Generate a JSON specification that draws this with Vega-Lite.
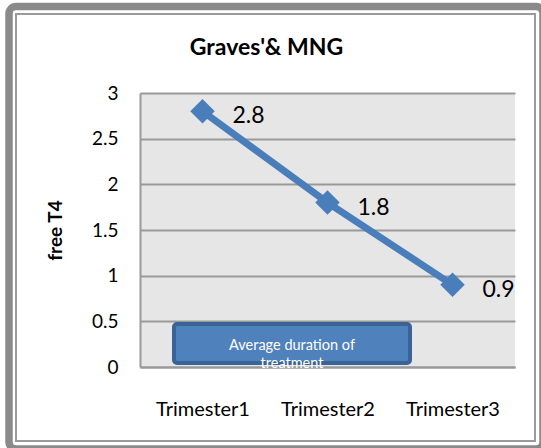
{
  "$schema": "https://vega.github.io/schema/vega-lite/v6.json",
  "width": 375,
  "height": 274,
  "autosize": {"type": "none"},
  "padding": {"left": 140, "top": 93, "right": 26, "bottom": 81},
  "background": "white",
  "config": {
    "view": {"fill": "#e6e6e6", "stroke": null},
    "font": "Lato"
  },
  "title": {
    "text": "Graves'& MNG",
    "font": "Lato",
    "fontSize": 23,
    "fontWeight": "bold",
    "color": "black",
    "anchor": "middle",
    "frame": "group",
    "baseline": "alphabetic",
    "dx": -61,
    "offset": -75
  },
  "datasets": {
    "main": [
      {"trimester": "Trimester1", "freeT4": 2.8},
      {"trimester": "Trimester2", "freeT4": 1.8},
      {"trimester": "Trimester3", "freeT4": 0.9}
    ],
    "one": [{"note": "Average duration of treatment"}]
  },
  "resolve": {"scale": {"x": "independent", "y": "independent"}},
  "layer": [
    {
      "data": {"name": "one"},
      "mark": {"type": "rect", "fill": "transparent", "stroke": "#8a8a8a", "strokeWidth": 7.5, "cornerRadius": 7},
      "encoding": {
        "x": {"datum": -1.048, "type": "quantitative", "scale": {"domain": [0, 3], "nice": false, "zero": false}, "axis": null},
        "x2": {"datum": 3.224},
        "y": {"datum": 3.947, "type": "quantitative", "scale": {"domain": [0, 3], "nice": false, "zero": false}, "axis": null},
        "y2": {"datum": -0.898}
      }
    },
    {
      "data": {"name": "one"},
      "mark": {"type": "rect", "fill": "transparent", "stroke": "#9a9a9a", "strokeWidth": 2},
      "encoding": {
        "x": {"datum": -0.992, "type": "quantitative", "scale": {"domain": [0, 3], "nice": false, "zero": false}, "axis": null},
        "x2": {"datum": 3.16},
        "y": {"datum": 3.865, "type": "quantitative", "scale": {"domain": [0, 3], "nice": false, "zero": false}, "axis": null},
        "y2": {"datum": -0.81}
      }
    },
    {
      "data": {"name": "main"},
      "encoding": {
        "x": {
          "field": "trimester",
          "type": "ordinal",
          "scale": {"type": "point", "padding": 0.5},
          "axis": {
            "title": null,
            "labelAngle": 0,
            "labelFontSize": 20,
            "labelColor": "black",
            "labelPadding": 32,
            "ticks": false,
            "tickSize": 0,
            "domainColor": "#999999",
            "domainWidth": 2,
            "grid": false
          }
        },
        "y": {
          "field": "freeT4",
          "type": "quantitative",
          "scale": {"domain": [0, 3], "nice": false},
          "axis": {
            "title": "free T4",
            "titleFontSize": 19,
            "titleFontWeight": "bold",
            "titleColor": "black",
            "titlePadding": 26,
            "values": [0, 0.5, 1, 1.5, 2, 2.5, 3],
            "format": "~g",
            "labelFontSize": 19,
            "labelColor": "black",
            "labelPadding": 22,
            "ticks": false,
            "tickSize": 0,
            "domainColor": "#999999",
            "domainWidth": 2,
            "grid": true,
            "gridColor": "#999999",
            "gridWidth": 2
          }
        }
      },
      "layer": [
        {
          "mark": {
            "type": "line",
            "color": "#4a7ebb",
            "strokeWidth": 7,
            "point": {"shape": "diamond", "size": 600, "filled": true, "color": "#4a7ebb", "opacity": 1}
          }
        },
        {
          "mark": {"type": "text", "align": "left", "baseline": "middle", "dx": 30, "dy": 5, "fontSize": 23, "color": "black"},
          "encoding": {"text": {"field": "freeT4", "type": "quantitative", "format": ".1f"}}
        }
      ]
    },
    {
      "data": {"name": "one"},
      "mark": {"type": "rect", "fill": "#4f81bd", "stroke": "#3b6496", "strokeWidth": 4, "cornerRadius": 3},
      "encoding": {
        "x": {"datum": 0.272, "type": "quantitative", "scale": {"domain": [0, 3], "nice": false, "zero": false}, "axis": null},
        "x2": {"datum": 2.16},
        "y": {"datum": 0.471, "type": "quantitative", "scale": {"domain": [0, 3], "nice": false, "zero": false}, "axis": null},
        "y2": {"datum": 0.044}
      }
    },
    {
      "data": {"name": "one"},
      "mark": {"type": "text", "text": ["Average duration  of", "treatment"], "align": "center", "baseline": "alphabetic", "lineHeight": 18, "fontSize": 14.5, "color": "white"},
      "encoding": {
        "x": {"datum": 1.216, "type": "quantitative", "scale": {"domain": [0, 3], "nice": false, "zero": false}, "axis": null},
        "y": {"datum": 0.19, "type": "quantitative", "scale": {"domain": [0, 3], "nice": false, "zero": false}, "axis": null}
      }
    }
  ]
}
